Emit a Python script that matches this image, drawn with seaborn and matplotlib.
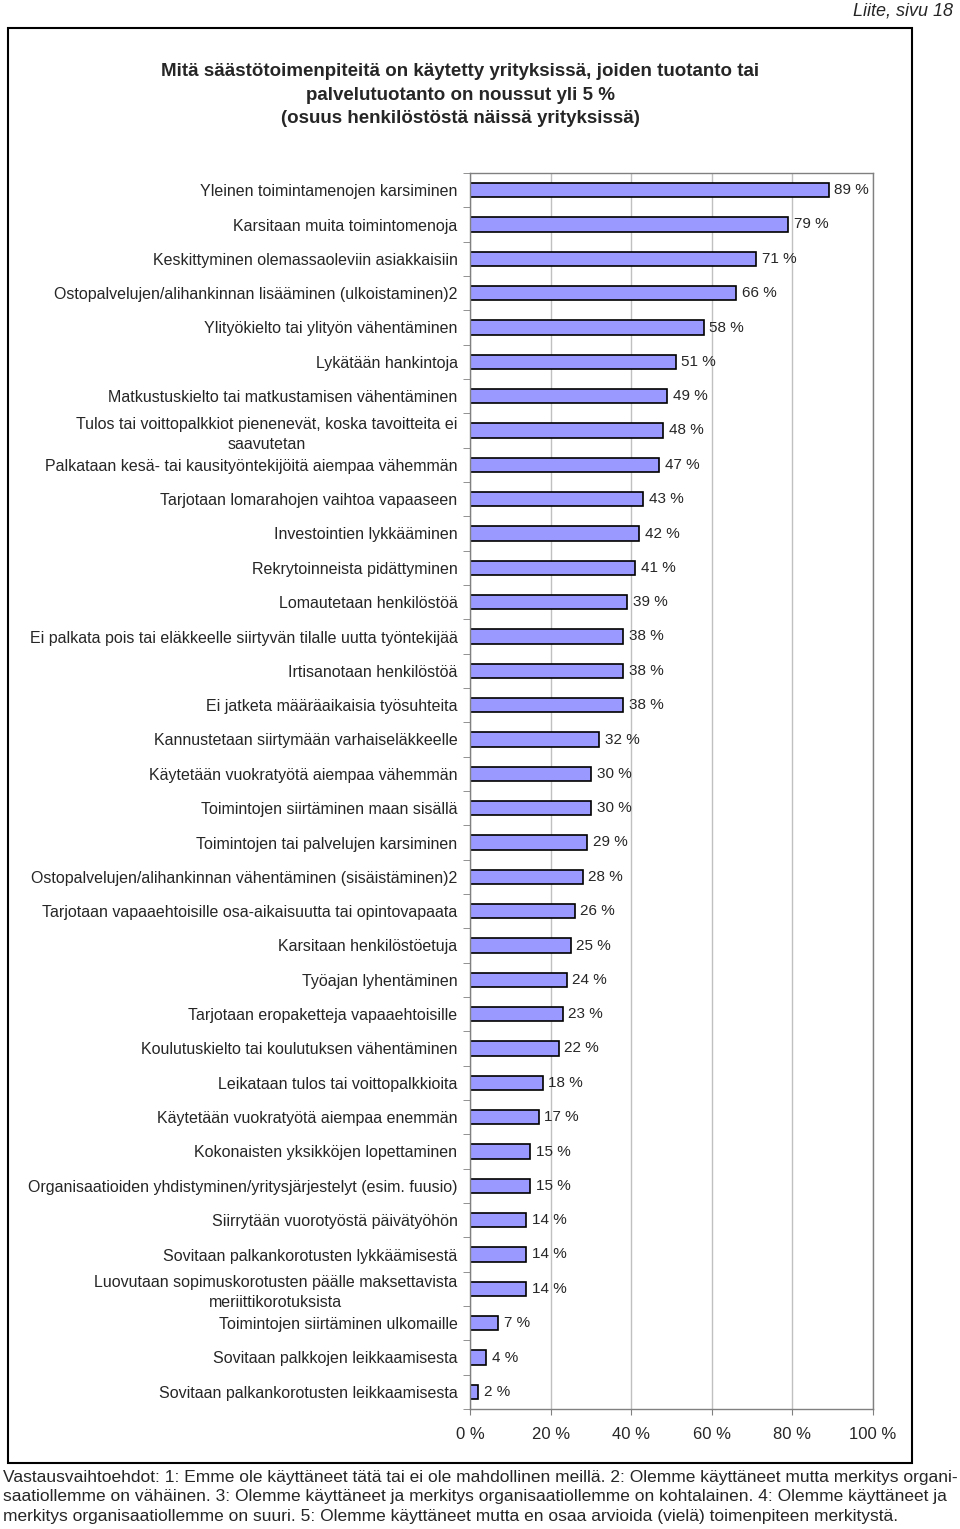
import matplotlib
matplotlib.use("Agg")
import matplotlib.pyplot as plt
import seaborn as sns
import pandas as pd
from matplotlib.patches import Rectangle
from matplotlib.ticker import FixedLocator

measures = [
    "Yleinen toimintamenojen karsiminen",
    "Karsitaan muita toimintomenoja",
    "Keskittyminen olemassaoleviin asiakkaisiin",
    "Ostopalvelujen/alihankinnan lisääminen (ulkoistaminen)2",
    "Ylityökielto tai ylityön vähentäminen",
    "Lykätään hankintoja",
    "Matkustuskielto tai matkustamisen vähentäminen",
    "Tulos tai voittopalkkiot pienenevät, koska tavoitteita ei\nsaavutetan",
    "Palkataan kesä- tai kausityöntekijöitä aiempaa vähemmän",
    "Tarjotaan lomarahojen vaihtoa vapaaseen",
    "Investointien lykkääminen",
    "Rekrytoinneista pidättyminen",
    "Lomautetaan henkilöstöä",
    "Ei palkata pois tai eläkkeelle siirtyvän tilalle uutta työntekijää",
    "Irtisanotaan henkilöstöä",
    "Ei jatketa määräaikaisia työsuhteita",
    "Kannustetaan siirtymään varhaiseläkkeelle",
    "Käytetään vuokratyötä aiempaa vähemmän",
    "Toimintojen siirtäminen maan sisällä",
    "Toimintojen tai palvelujen karsiminen",
    "Ostopalvelujen/alihankinnan vähentäminen (sisäistäminen)2",
    "Tarjotaan vapaaehtoisille osa-aikaisuutta tai opintovapaata",
    "Karsitaan henkilöstöetuja",
    "Työajan lyhentäminen",
    "Tarjotaan eropaketteja vapaaehtoisille",
    "Koulutuskielto tai koulutuksen vähentäminen",
    "Leikataan tulos tai voittopalkkioita",
    "Käytetään vuokratyötä aiempaa enemmän",
    "Kokonaisten yksikköjen lopettaminen",
    "Organisaatioiden yhdistyminen/yritysjärjestelyt (esim. fuusio)",
    "Siirrytään vuorotyöstä päivätyöhön",
    "Sovitaan palkankorotusten lykkäämisestä",
    "Luovutaan sopimuskorotusten päälle maksettavista\nmeriittikorotuksista",
    "Toimintojen siirtäminen ulkomaille",
    "Sovitaan palkkojen leikkaamisesta",
    "Sovitaan palkankorotusten leikkaamisesta",
]
shares = [89, 79, 71, 66, 58, 51, 49, 48, 47, 43, 42, 41, 39, 38, 38, 38, 32, 30,
          30, 29, 28, 26, 25, 24, 23, 22, 18, 17, 15, 15, 14, 14, 14, 7, 4, 2]
x_ticks = [0, 20, 40, 60, 80, 100]

title = ("Mitä säästötoimenpiteitä on käytetty yrityksissä, joiden tuotanto tai\n"
         "palvelutuotanto on noussut yli 5 %\n"
         "(osuus henkilöstöstä näissä yrityksissä)")
footnote = ("Vastausvaihtoehdot: 1: Emme ole käyttäneet tätä tai ei ole mahdollinen meillä. 2: Olemme käyttäneet mutta merkitys organi-\n"
            "saatiollemme on vähäinen. 3: Olemme käyttäneet ja merkitys organisaatiollemme on kohtalainen. 4: Olemme käyttäneet ja\n"
            "merkitys organisaatiollemme on suuri. 5: Olemme käyttäneet mutta en osaa arvioida (vielä) toimenpiteen merkitystä.")

df = pd.DataFrame({"measure": measures, "share": shares})

sns.set_style("white")
plt.rcParams["font.family"] = ["Liberation Sans", "DejaVu Sans"]

W, H = 960, 1529
fig = plt.figure(figsize=(W / 100, H / 100), dpi=100)
ax = fig.add_axes([470 / W, 1 - 1409 / H, 403 / W, (1409 - 173) / H])

sns.barplot(data=df, x="share", y="measure", orient="h", color="#9999FF",
            edgecolor="black", linewidth=1.2, width=0.42, saturation=1, ax=ax)

for i, v in enumerate(shares):
    ax.text(v + 1.4, i, f"{v} %", va="center", ha="left", fontsize=11)

ax.set_xlim(0, 100)
ax.set_ylim(len(shares) - 0.5, -0.5)
ax.set_xticks(x_ticks)
ax.set_xticklabels([f"{t} %" for t in x_ticks], fontsize=12)
ax.xaxis.grid(True, color="#c0c0c0", linewidth=1)
ax.set_axisbelow(True)
ax.set_xlabel("")
ax.set_ylabel("")
ax.tick_params(axis="y", length=0, pad=9, labelsize=11.5)
ax.tick_params(axis="x", length=4, pad=9, color="#808080", bottom=True)
ax.yaxis.set_minor_locator(FixedLocator([i + 0.5 for i in range(-1, len(shares))]))
ax.tick_params(axis="y", which="minor", length=5, color="#808080", left=True)
for t in ax.get_yticklabels():
    t.set_multialignment("center")
    t.set_linespacing(1.4)
for s in ax.spines.values():
    s.set_color("#808080")
    s.set_linewidth(1)

fig.text(460 / W, 1 - 95 / H, title, ha="center", va="center", fontsize=13.5,
         fontweight="bold", linespacing=1.5)
fig.text(953 / W, 1 - 11 / H, "Liite, sivu 18", ha="right", va="center",
         fontsize=13, style="italic")
fig.text(3 / W, 1 - 1497 / H, footnote, ha="left", va="center", fontsize=12.5,
         linespacing=1.35)

fig.patches.append(Rectangle((8 / W, 1 - 1463 / H), 904 / W, 1435 / H,
                             transform=fig.transFigure, fill=False,
                             edgecolor="black", linewidth=1.5))

fig.savefig("out.png", dpi=100)
